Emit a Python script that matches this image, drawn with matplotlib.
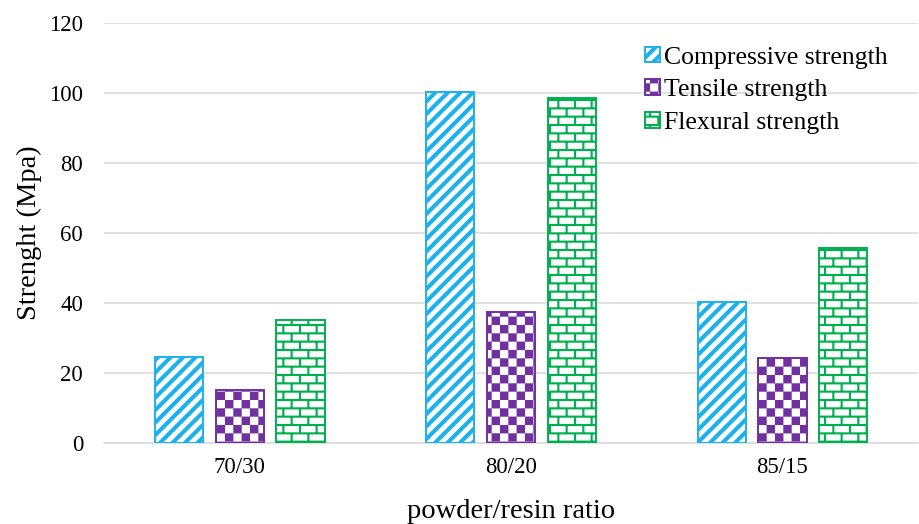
import warnings
warnings.filterwarnings("ignore")
import numpy as np
import matplotlib
matplotlib.use("Agg")
import matplotlib.pyplot as plt
import matplotlib.hatch as mhatch
from matplotlib.path import Path

# ---------------- data ----------------
categories = ["70/30", "80/20", "85/15"]
compressive = [24.5, 100.2, 40.3]
tensile = [15.1, 37.3, 24.4]
flexural = [35.1, 98.4, 55.7]
series_names = ["Compressive strength", "Tensile strength", "Flexural strength"]
y_ticks = [0, 20, 40, 60, 80, 100, 120]

# ---------------- custom pattern fills ----------------
class _PolyHatch(mhatch.HatchPatternBase):
    char = None

    def __init__(self, hatch, density):
        self.polys = self.make_polys() if (hatch and self.char in hatch) else []
        self.num_vertices = sum(len(p) + 1 for p in self.polys)

    def make_polys(self):
        return []

    def set_vertices_and_codes(self, vertices, codes):
        i = 0
        for p in self.polys:
            n = len(p)
            vertices[i:i + n] = p
            vertices[i + n] = p[0]
            codes[i] = Path.MOVETO
            codes[i + 1:i + n] = Path.LINETO
            codes[i + n] = Path.CLOSEPOLY
            i += n + 1


class StripeHatch(_PolyHatch):
    char = "s"

    def make_polys(self):
        n, w = 8, 0.45 / 8
        polys = []
        for k in range(2 * n + 2):
            a = k / n - 1.0
            polys.append(np.array([[a, 0], [a + w, 0], [a + w + 1, 1], [a + 1, 1]]))
        return polys


class CheckerHatch(_PolyHatch):
    char = "c"

    def make_polys(self):
        n = 12
        d = 1.0 / n
        polys = []
        for i in range(n):
            for j in range(n):
                if (i + j) % 2 == 0:
                    x, y = i * d, j * d
                    polys.append(np.array([[x, y], [x + d, y], [x + d, y + d], [x, y + d]]))
        return polys


class BrickHatch(_PolyHatch):
    char = "b"

    def make_polys(self):
        rows, cols, t = 12, 6, 0.02
        polys = []
        for k in range(rows + 1):
            y = k / rows
            polys.append(np.array([[0, y - t / 2], [1, y - t / 2], [1, y + t / 2], [0, y + t / 2]]))
        for k in range(rows):
            y0, y1 = k / rows, (k + 1) / rows
            for j in range(cols + 1):
                x = (j + 0.5 * (k % 2)) / cols
                polys.append(np.array([[x - t / 2, y0], [x + t / 2, y0], [x + t / 2, y1], [x - t / 2, y1]]))
        return polys


mhatch._hatch_types.extend([StripeHatch, CheckerHatch, BrickHatch])

# ---------------- style ----------------
plt.rcParams["font.family"] = ["Liberation Serif", "DejaVu Serif"]
plt.rcParams["hatch.linewidth"] = 0.1

blue = "#1DB1EC"
purple = "#7030A0"
green = "#00B050"
grid_c = "#D9D9D9"

fig = plt.figure(figsize=(9.2, 5.24), dpi=100)
ax = fig.add_axes([0.113, 0.1546, 0.885, 0.802])

x = np.arange(len(categories))
step = 0.224
width = 0.178

series = [compressive, tensile, flexural]
colors = [blue, purple, green]
hatches = ["s", "c", "b"]
for i, (vals, col, h, name) in enumerate(zip(series, colors, hatches, series_names)):
    ax.bar(x + (i - 1) * step, vals, width, facecolor="white", edgecolor=col,
           hatch=h, linewidth=1.4, label=name, zorder=3)

ax.set_xlim(-0.5, 2.5)
ax.set_ylim(0, 120)
ax.set_yticks(y_ticks)
ax.set_xticks(x)
ax.set_xticklabels(categories)
ax.yaxis.grid(True, color=grid_c, linewidth=1.1, zorder=0)
ax.set_axisbelow(True)
for s in ["top", "right", "left"]:
    ax.spines[s].set_visible(False)
ax.spines["bottom"].set_color(grid_c)
ax.spines["bottom"].set_linewidth(1.1)
ax.tick_params(axis="both", length=0, labelsize=16.4, colors="black")
ax.tick_params(axis="y", pad=15)
ax.tick_params(axis="x", pad=10)

ax.set_xlabel("powder/resin ratio", fontsize=20.5, labelpad=15)
ax.set_ylabel("Strenght (Mpa)", fontsize=20.5, labelpad=5)

leg = ax.legend(loc="upper left", bbox_to_anchor=(645 / 920, 1 - 46.5 / 524),
                bbox_transform=fig.transFigure, frameon=False, fontsize=18.5,
                handlelength=0.58, handleheight=0.58, handletextpad=0.15,
                labelspacing=0.42, borderpad=0, borderaxespad=0)

fig.savefig("out.png", dpi=100)
